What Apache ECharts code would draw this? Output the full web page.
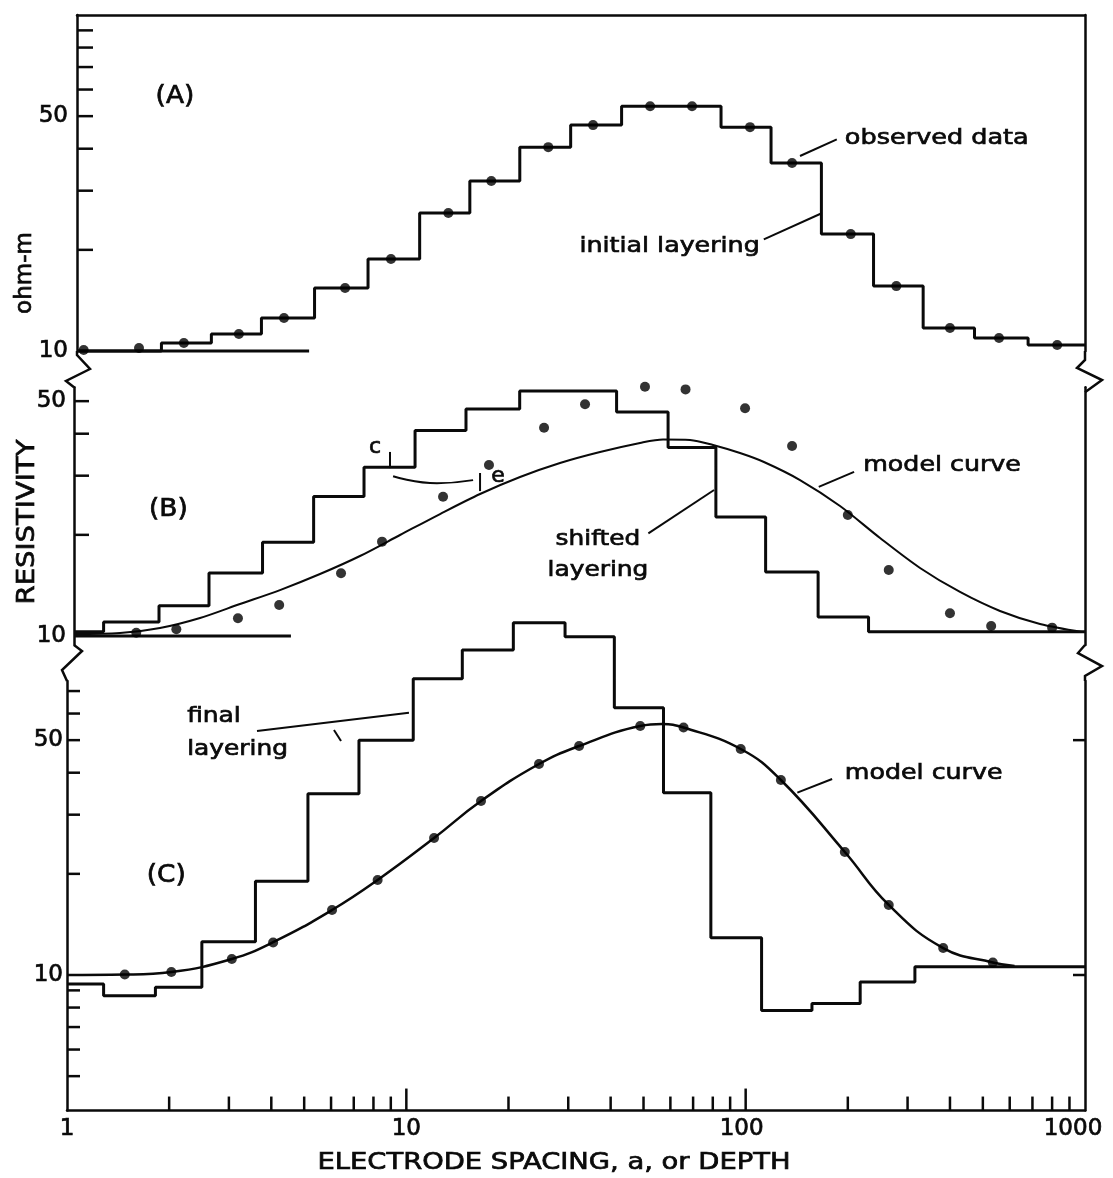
<!DOCTYPE html>
<html>
<head>
<meta charset="utf-8">
<script src="https://cdn.jsdelivr.net/npm/echarts@6/dist/echarts.min.js"></script>
<style>html,body{margin:0;padding:0;background:#fff}#c{width:1113px;height:1178px}</style>
</head>
<body>
<div id="c"></div>
<script>
// ---------------- DATA ----------------
// Panel A : observed apparent resistivity and initial layering
const spacingA = [1.12, 1.63, 2.21, 3.21, 4.36, 6.60, 9.01, 13.3, 17.8, 26.2, 35.5, 52.3, 69.5, 103, 137, 204, 278, 400, 558, 828];
const rhoA = [10.07, 10.21, 10.56, 11.24, 12.54, 15.40, 18.78, 25.74, 32.06, 40.43, 47.02, 53.49, 53.49, 46.37, 36.25, 22.28, 15.60, 11.71, 10.93, 10.42];
const initialRhoA = [10.0, 10.0, 10.56, 11.24, 12.54, 15.40, 18.78, 25.74, 32.06, 40.43, 47.02, 53.49, 53.49, 46.37, 36.25, 22.28, 15.60, 11.71, 10.93, 10.42];
const baseEndA = 5.17;

// Panel B : observed data, shifted layering and its model curve
const spacingB = [1.60, 2.10, 3.19, 4.22, 6.42, 8.48, 12.83, 17.52, 25.46, 33.62, 50.5, 66.5, 99.6, 137, 200, 264, 400, 529, 800];
const rhoB = [10.23, 10.47, 11.29, 12.37, 15.37, 19.09, 25.98, 32.28, 41.69, 48.93, 55.2, 54.2, 47.6, 36.78, 22.92, 15.72, 11.68, 10.71, 10.59];
const shiftBoundsB = [1.282, 1.867, 2.621, 3.769, 5.331, 7.504, 10.61, 14.99, 21.58, 41.65, 59.07, 81.70, 114.5, 163.5, 230.2];
const shiftRhoB = [10.3, 11.0, 12.3, 15.4, 19.0, 26.0, 31.8, 40.9, 47.4, 53.6, 46.4, 36.4, 22.6, 15.5, 11.4, 10.3];
const baseEndB = 4.57;
const modelBx = [1.049, 1.433, 1.879, 2.466, 3.234, 4.243, 5.567, 7.302, 9.580, 12.57, 16.49, 21.63, 28.37, 37.22, 48.83, 57.07, 68.55, 80.14, 96.23, 113.2, 144.6, 189.7, 248.9, 326.5, 428.2, 561.7, 736.9, 979.7];
const modelBy = [10.14, 10.21, 10.56, 11.31, 12.45, 13.70, 15.29, 17.30, 19.98, 23.07, 26.46, 29.73, 32.72, 35.28, 37.54, 38.45, 38.32, 37.03, 35.04, 32.95, 29.12, 24.37, 19.57, 15.94, 13.52, 11.87, 10.86, 10.28];

// Panel C : observed data, final layering and model curve
const spacingC = [1.48, 2.03, 3.06, 4.05, 6.04, 8.23, 12.07, 16.6, 24.6, 32.3, 48.9, 65.6, 96.7, 127, 196, 264, 382, 535];
const rhoC = [10.03, 10.21, 11.16, 12.49, 15.61, 19.18, 25.57, 32.95, 42.46, 48.03, 55.09, 54.52, 47.06, 38.05, 23.23, 16.16, 12.03, 10.90];
const finalBoundsC = [1.282, 1.822, 2.497, 3.592, 5.129, 7.251, 10.48, 14.62, 20.67, 29.36, 41.02, 57.26, 78.96, 111.4, 156.8, 217.5, 315.3];
const finalRhoC = [9.40, 8.68, 9.20, 12.55, 19.02, 34.64, 49.97, 76.12, 92.8, 111.8, 101.6, 62.45, 34.88, 12.90, 7.84, 8.22, 9.53, 10.59];
const modelCx = [1.00, 1.48, 2.03, 3.06, 4.05, 6.04, 8.23, 12.07, 16.6, 24.6, 32.3, 48.9, 56.7, 65.6, 96.7, 127, 196, 264, 382, 535, 620];
const modelCy = [10.00, 10.03, 10.21, 11.16, 12.52, 15.61, 19.18, 25.57, 32.95, 42.46, 48.03, 55.09, 55.85, 54.52, 47.06, 38.05, 23.23, 16.16, 12.03, 10.90, 10.64];

// Axis ticks and tick labels
const yTicksA = [20, 30, 40, 50, 60, 70, 80, 90];
const yTicksB = [20, 30, 40, 50];
const yTicksC = [5, 6, 7, 8, 9, 20, 30, 40, 50, 60, 70];
const yRightTicksC = [10, 50];
const yTickLabels = [10, 50];
const xTickLabels = [1, 10, 100, 1000];
const xMajorTicks = [10, 100];
const xMinorTicks = [2, 3, 4, 5, 6, 7, 8, 9, 20, 30, 40, 50, 60, 70, 80, 90, 200, 300, 400, 500, 600, 700, 800, 900];

// ---------------- LAYOUT ----------------
const W = 1113;
const RIGHT_X = 1085;
const DEC_Y = 336;                 // px per decade (vertical)
const LEFT = [77, 74, 67];         // left axis x of panels A, B, C
const X_DEC = (RIGHT_X - LEFT[2]) / 3;
const xMin = LEFT.map(l => Math.pow(10, (l - LEFT[2]) / X_DEC));
const yRange = [[10, 100], [9.4, 55], [3.95, 75]];
const yRef = [351, 636, 975];      // pixel row of the value 10 in each panel
const L = yRange.map(([mn, mx], i) => {
  const top = yRef[i] - DEC_Y * Math.log10(mx / 10);
  const bottom = yRef[i] + DEC_Y * Math.log10(10 / mn);
  return {top, bottom, height: bottom - top};
});
const FONT = '"DejaVu Sans", "Liberation Sans", sans-serif';
const INK = '#0a0a0a';
const BOLDEN = {stroke: INK, lineWidth: 0.7};

// annotations (data coordinates of their anchors)
const notes = [
  [ {t: '(A)', x: 2.08, y: 57, align: 'center', size: 24, sx: 1.1},
    {t: 'observed data', x: 196, y: 43, align: 'left', size: 22, sx: 1.16},
    {t: 'initial layering', x: 110, y: 20.5, align: 'right', size: 22, sx: 1.15} ],
  [ {t: '(B)', x: 1.99, y: 23.7, align: 'center', size: 24, sx: 1.1},
    {t: 'c', x: 8.09, y: 36.5, align: 'center', size: 22, sx: 1},
    {t: 'e', x: 18.64, y: 29.9, align: 'center', size: 22, sx: 1},
    {t: 'model curve', x: 222, y: 32.3, align: 'left', size: 22, sx: 1.15},
    {t: 'shifted\nlayering', x: 36.7, y: 17.48, align: 'center', size: 22, sx: 1.13, lh: 31} ],
  [ {t: '(C)', x: 1.96, y: 19.8, align: 'center', size: 24, sx: 1.1},
    {t: 'final\nlayering', x: 2.26, y: 52.7, align: 'left', size: 22, sx: 1.13, lh: 33},
    {t: 'model curve', x: 196, y: 39.9, align: 'left', size: 22, sx: 1.15} ]
];
const leaders = [
  [ [[144.6, 38.05], [185.6, 42.66]], [[113.1, 21.5], [167.5, 25.7]] ],
  [ [[8.95, 31.6], [8.95, 35.3]], [[16.49, 30.56], [16.49, 27.0]], [[164.2, 27.8], [208.7, 30.8]], [[51.67, 20.2], [80.7, 27.2]] ],
  [ [[3.63, 53.2], [10.18, 60.3]], [[6.12, 53.6], [6.42, 49.7]], [[142.0, 34.9], [179.8, 38.3]] ]
];
const misfitArcB = [[9.14, 29.9], [12.31, 28.5], [15.73, 29.1]];
const xLabelShift = {100: -4, 1000: -12};

// ---------------- OPTION ----------------
const grids = L.map((g, i) => ({left: LEFT[i], right: W - RIGHT_X, top: g.top, height: g.height, outerBoundsMode: 'none'}));
const axisLine = {show: true, lineStyle: {color: INK, width: 2.5}};
const noDeco = {axisTick: {show: false}, axisLabel: {show: false}, splitLine: {show: false}, minorTick: {show: false}};

const xAxes = [0, 1, 2].map(i => Object.assign({
  type: 'log', logBase: 10, gridIndex: i, min: xMin[i], max: 1000,
  position: i === 0 ? 'top' : 'bottom', show: i !== 1, axisLine: axisLine
}, noDeco));
const yAxes = [];
[0, 1, 2].forEach(i => yAxes.push(Object.assign({type: 'log', logBase: 10, gridIndex: i, min: yRange[i][0], max: yRange[i][1], position: 'left', axisLine: axisLine}, noDeco)));
[0, 1, 2].forEach(i => yAxes.push(Object.assign({type: 'log', logBase: 10, gridIndex: i, min: yRange[i][0], max: yRange[i][1], position: 'right', axisLine: axisLine}, noDeco)));

const series = [];
const lineS = (gi, data, extra) => Object.assign({
  type: 'line', xAxisIndex: gi, yAxisIndex: gi, data, symbol: 'none', clip: false, silent: true,
  lineStyle: {color: INK, width: 3}, z: 3
}, extra || {});
const dotS = (gi, xs, ys) => ({
  type: 'scatter', xAxisIndex: gi, yAxisIndex: gi, data: xs.map((x, i) => [x, ys[i]]),
  symbol: 'circle', symbolSize: 10, itemStyle: {color: '#000'}, clip: false, silent: true, z: 6
});
const layered = (gi, bounds, rhos) => {
  const pts = [[xMin[gi], rhos[0]]];
  bounds.forEach((b, i) => pts.push([b, rhos[i + 1]]));
  pts.push([1000, rhos[rhos.length - 1]]);
  return pts;
};

// Panel A
series.push(lineS(0, [[xMin[0], 10], [baseEndA, 10]]));
series.push(lineS(0, [[xMin[0], initialRhoA[0]]].concat(spacingA.map((a, i) => [a, initialRhoA[i]])).concat([[1000, initialRhoA[initialRhoA.length - 1]]]), {step: 'middle'}));
series.push(dotS(0, spacingA, rhoA));
// Panel B
series.push(lineS(1, [[xMin[1], 10], [baseEndB, 10]]));
series.push(lineS(1, layered(1, shiftBoundsB, shiftRhoB), {step: 'end'}));
series.push(lineS(1, modelBx.map((x, i) => [x, modelBy[i]]), {smooth: 0.3, lineStyle: {color: INK, width: 2}}));
series.push(lineS(1, misfitArcB, {smooth: 0.5, lineStyle: {color: INK, width: 2}}));
series.push(dotS(1, spacingB, rhoB));
// Panel C
series.push(lineS(2, layered(2, finalBoundsC, finalRhoC), {step: 'end'}));
series.push(lineS(2, modelCx.map((x, i) => [x, modelCy[i]]), {smooth: 0.45, lineStyle: {color: INK, width: 2.5}}));
series.push(dotS(2, spacingC, rhoC));
// leader lines
leaders.forEach((segs, gi) => segs.forEach(s => series.push(lineS(gi, s, {lineStyle: {color: INK, width: 2}}))));

// tick marks through the axis scales
const tickS = (gi, data, dx, dy) => ({
  type: 'custom', xAxisIndex: gi, yAxisIndex: gi, data, clip: false, silent: true, z: 4,
  renderItem: (params, api) => {
    const p = api.coord([api.value(0), api.value(1)]);
    return {type: 'line', shape: {x1: p[0], y1: p[1], x2: p[0] + dx, y2: p[1] + dy}, style: {stroke: INK, lineWidth: 2.5}};
  }
});
series.push(tickS(0, yTicksA.map(v => [xMin[0], v]), 16, 0));
series.push(tickS(1, yTicksB.map(v => [xMin[1], v]), 15, 0));
series.push(tickS(2, yTicksC.map(v => [xMin[2], v]), 13, 0));
series.push(tickS(2, yRightTicksC.map(v => [1000, v]), -12, 0));
series.push(tickS(2, xMinorTicks.map(v => [v, yRange[2][0]]), 0, -14));
series.push(tickS(2, xMajorTicks.map(v => [v, yRange[2][0]]), 0, -22));

// tick labels
const labelS = (gi, data, texts, fn) => ({
  type: 'custom', xAxisIndex: gi, yAxisIndex: gi, data, clip: false, silent: true, z: 4,
  renderItem: (params, api) => {
    const p = api.coord([api.value(0), api.value(1)]);
    return fn(p, texts[params.dataIndex]);
  }
});
const yLabMargin = [9, 8, 4];
[0, 1, 2].forEach(gi => series.push(labelS(gi, yTickLabels.map(v => [xMin[gi], v]), yTickLabels.map(String), (p, t) => ({
  type: 'text', x: p[0] - yLabMargin[gi], y: p[1],
  style: Object.assign({text: t, fill: INK, font: '23px ' + FONT, align: 'right', verticalAlign: 'middle'}, BOLDEN)
}))));
series.push(labelS(2, xTickLabels.map(v => [v, yRange[2][0]]), xTickLabels.map(String), (p, t) => ({
  type: 'text', x: p[0] + (xLabelShift[t] || 0), y: p[1] + 18,
  style: Object.assign({text: t, fill: INK, font: '23px ' + FONT, align: 'center', verticalAlign: 'middle'}, BOLDEN)
})));

// annotation texts
notes.forEach((list, gi) => series.push({
  type: 'custom', xAxisIndex: gi, yAxisIndex: gi, data: list.map(n => [n.x, n.y]), clip: false, silent: true, z: 7,
  renderItem: (params, api) => {
    const n = list[params.dataIndex];
    const p = api.coord([api.value(0), api.value(1)]);
    return {type: 'text', x: p[0], y: p[1], scaleX: n.sx || 1,
      style: Object.assign({text: n.t, fill: INK, font: n.size + 'px ' + FONT, align: n.align, verticalAlign: 'middle', lineHeight: n.lh || n.size}, BOLDEN)};
  }
}));

// axis break marks and axis titles
const zig = pts => ({type: 'polyline', shape: {points: pts}, style: {stroke: INK, lineWidth: 2.5, fill: null}, silent: true});
const graphic = [
  zig([[LEFT[0], L[0].bottom], [LEFT[0], L[0].bottom + 4], [LEFT[0] + 13, L[0].bottom + 18], [LEFT[2] - 1, L[0].bottom + 30], [LEFT[1], L[1].top]]),
  zig([[LEFT[1], L[1].bottom], [LEFT[1] + 8, L[1].bottom + 6], [LEFT[2] - 5, L[1].bottom + 25], [LEFT[2], L[2].top]]),
  zig([[RIGHT_X, L[0].bottom], [RIGHT_X, L[0].bottom + 9], [RIGHT_X - 8, L[0].bottom + 17], [RIGHT_X + 17, L[0].bottom + 29], [RIGHT_X, L[1].top + 5]]),
  zig([[RIGHT_X, L[1].bottom], [RIGHT_X - 7, L[1].bottom + 8], [RIGHT_X + 17, L[1].bottom + 21], [RIGHT_X, L[1].bottom + 31], [RIGHT_X, L[2].top]]),
  {type: 'text', x: 27, y: 522, rotation: Math.PI / 2, scaleX: 1.1, silent: true,
   style: Object.assign({text: 'RESISTIVITY', fill: INK, font: '25px ' + FONT, align: 'center', verticalAlign: 'middle'}, BOLDEN)},
  {type: 'text', x: 25, y: 273, rotation: Math.PI / 2, silent: true,
   style: Object.assign({text: 'ohm-m', fill: INK, font: '23px ' + FONT, align: 'center', verticalAlign: 'middle'}, BOLDEN)},
  {type: 'text', x: 554, y: 1163, scaleX: 1.19, silent: true,
   style: Object.assign({text: 'ELECTRODE SPACING, a, or DEPTH', fill: INK, font: '23px ' + FONT, align: 'center', verticalAlign: 'middle'}, BOLDEN)}
];

const chart = echarts.init(document.getElementById('c'), null, {renderer: 'canvas', width: 1113, height: 1178});
chart.setOption({
  backgroundColor: '#ffffff',
  animation: false,
  grid: grids,
  xAxis: xAxes,
  yAxis: yAxes,
  series: series,
  graphic: graphic
});
</script>
</body>
</html>
